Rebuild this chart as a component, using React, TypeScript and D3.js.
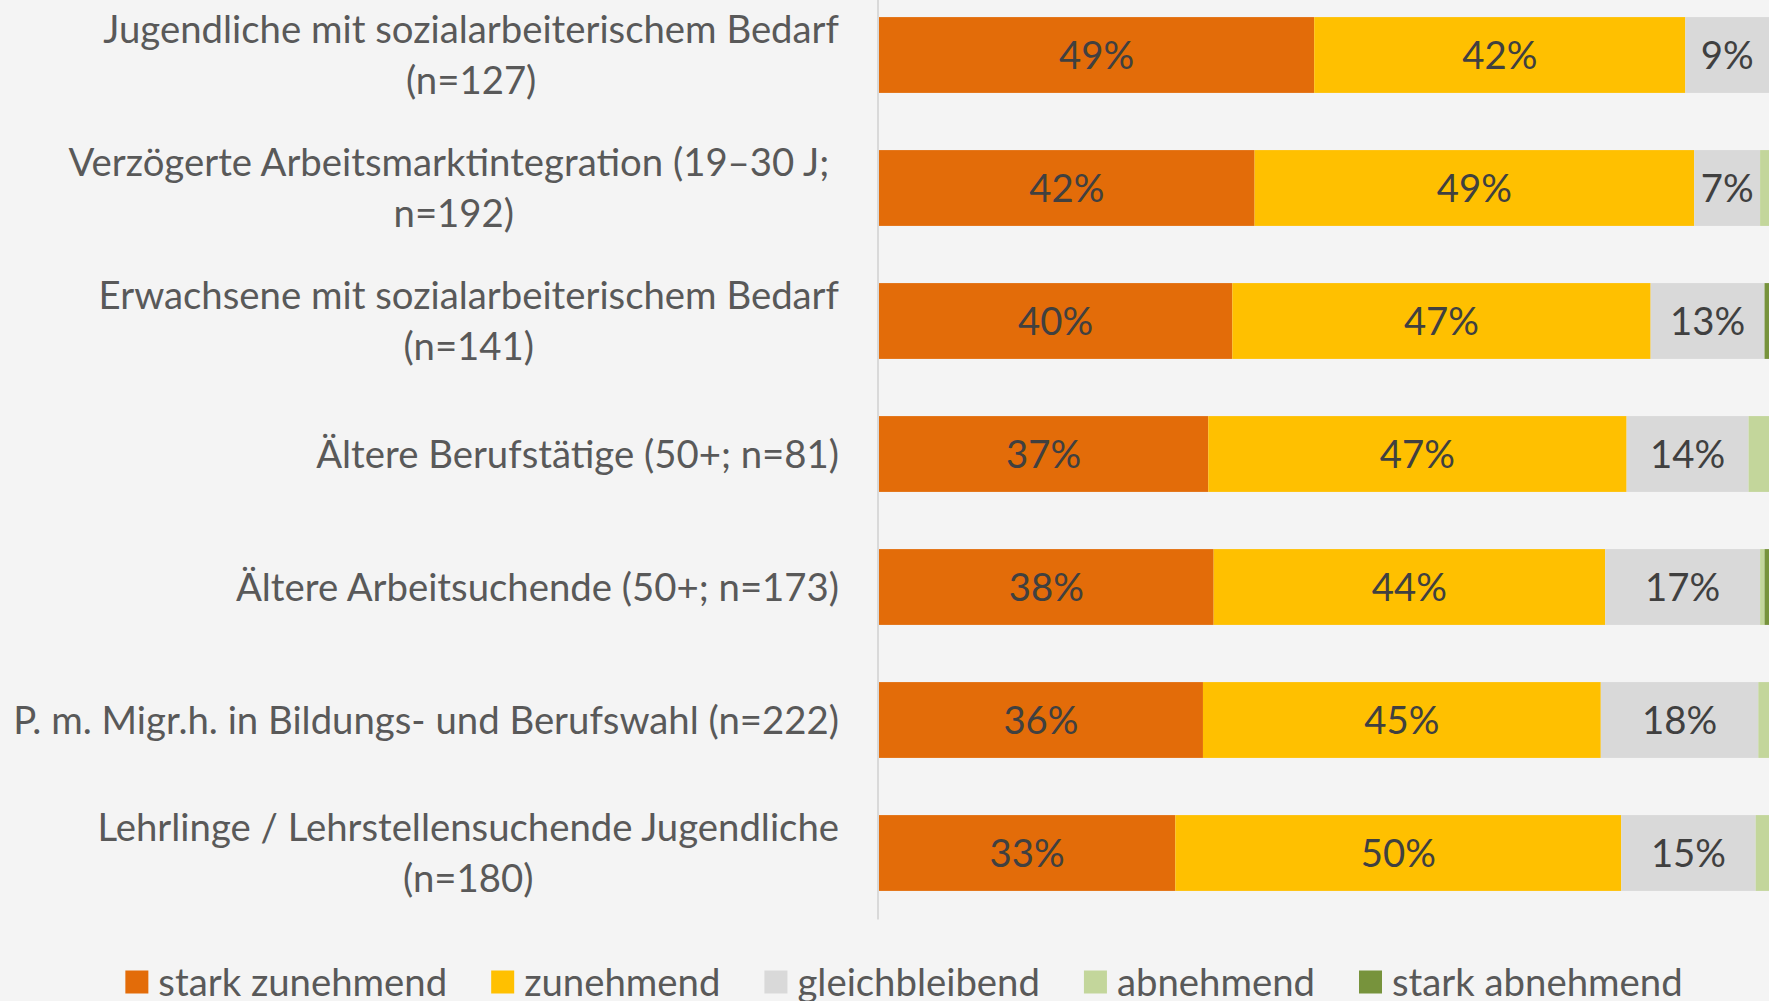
import React, { useEffect, useRef } from "react";
import * as d3 from "d3";

const categoryLines: string[][] = [
  ["Jugendliche mit sozialarbeiterischem Bedarf", "(n=127)"],
  ["Verzögerte Arbeitsmarktintegration (19–30 J; ", "n=192)"],
  ["Erwachsene mit sozialarbeiterischem Bedarf", "(n=141)"],
  ["Ältere Berufstätige (50+; n=81)"],
  ["Ältere Arbeitsuchende (50+; n=173)"],
  ["P. m. Migr.h. in Bildungs- und Berufswahl (n=222)"],
  ["Lehrlinge / Lehrstellensuchende Jugendliche", "(n=180)"],
];

const seriesNames = ["stark zunehmend", "zunehmend", "gleichbleibend", "abnehmend", "stark abnehmend"];
const seriesColors = ["#E36C09", "#FFC000", "#D9D9D9", "#C3D69B", "#77933C"];

const starkZunehmend = [48.9, 42.2, 39.7, 37.0, 37.6, 36.4, 33.3];
const zunehmend = [41.7, 49.4, 47.0, 47.0, 44.0, 44.7, 50.1];
const gleichbleibend = [9.4, 7.4, 12.8, 13.7, 17.4, 17.7, 15.1];
const abnehmend = [0, 1.0, 0, 2.3, 0.5, 1.2, 1.5];
const starkAbnehmend = [0, 0, 0.5, 0, 0.5, 0, 0];

const W = 1769;
const H = 1001;
const FONT = "Lato, 'Open Sans', sans-serif";

export default function App() {
  const ref = useRef<SVGSVGElement | null>(null);

  useEffect(() => {
    document.body.style.margin = "0";
    const svg = d3.select(ref.current);
    svg.selectAll("*").remove();

    const probe = svg.append("text").attr("font-family", FONT).attr("font-size", 100)
      .text("Jugendliche mit sozialarbeiterischem Bedarf");
    const pw = (probe.node() as SVGTextElement).getComputedTextLength();
    probe.remove();
    const fs = (100 * 736) / pw;

    svg.append("rect").attr("width", W).attr("height", H).attr("fill", "#F4F4F4");

    const rows = categoryLines.map((_, i) => ({
      idx: String(i),
      [seriesNames[0]]: starkZunehmend[i],
      [seriesNames[1]]: zunehmend[i],
      [seriesNames[2]]: gleichbleibend[i],
      [seriesNames[3]]: abnehmend[i],
      [seriesNames[4]]: starkAbnehmend[i],
    }));

    const x = d3.scaleLinear().domain([0, 100]).range([879, 1769]);
    const y = d3.scaleBand<string>()
      .domain(rows.map((r) => r.idx))
      .range([-11.5, 919.5])
      .paddingInner(0.43)
      .paddingOuter(0.215);

    const stack = d3.stack<any>().keys(seriesNames);
    const stacked = stack(rows);
    const color = d3.scaleOrdinal<string, string>().domain(seriesNames).range(seriesColors);

    const g = svg.append("g");
    stacked.forEach((s) => {
      const sg = g.append("g").attr("fill", color(s.key));
      sg.selectAll("rect")
        .data(s)
        .join("rect")
        .attr("x", (d) => x(d[0]))
        .attr("y", (d: any) => y(d.data.idx) as number)
        .attr("width", (d) => Math.max(0, x(d[1]) - x(d[0])))
        .attr("height", y.bandwidth());
    });

    const dy = -1.5;

    stacked.forEach((s) => {
      g.append("g")
        .selectAll("text")
        .data(s.filter((d) => d[1] - d[0] >= 3))
        .join("text")
        .attr("x", (d) => (x(d[0]) + x(d[1])) / 2)
        .attr("y", (d: any) => (y(d.data.idx) as number) + y.bandwidth() / 2 + dy)
        .attr("text-anchor", "middle")
        .attr("dominant-baseline", "central")
        .attr("font-family", FONT)
        .attr("font-size", fs)
        .attr("fill", "#404040")
        .text((d) => `${Math.round(d[1] - d[0])}%`);
    });

    svg.append("line")
      .attr("x1", 878).attr("x2", 878)
      .attr("y1", y.range()[0]).attr("y2", y.range()[1])
      .attr("stroke", "#D9D9D9").attr("stroke-width", 2);

    const labelRight = 839;
    const lineGap = 51;
    categoryLines.forEach((lines, i) => {
      const cy = (y(String(i)) as number) + y.bandwidth() / 2 + dy;
      if (lines.length === 1) {
        svg.append("text")
          .attr("x", labelRight).attr("y", cy)
          .attr("text-anchor", "end").attr("dominant-baseline", "central")
          .attr("font-family", FONT).attr("font-size", fs).attr("fill", "#595959")
          .text(lines[0]);
      } else {
        const texts = lines.map((ln, j) =>
          svg.append("text")
            .attr("y", cy + (j - (lines.length - 1) / 2) * lineGap)
            .attr("text-anchor", "middle").attr("dominant-baseline", "central")
            .attr("font-family", FONT).attr("font-size", fs).attr("fill", "#595959")
            .style("white-space", "pre")
            .text(ln)
        );
        const maxW = d3.max(texts, (t) => (t.node() as SVGTextElement).getComputedTextLength()) as number;
        const cx = labelRight - maxW / 2;
        texts.forEach((t) => t.attr("x", cx));
      }
    });

    const sw = 23;
    const swGap = 10;
    const itemGap = 44;
    const legY = 981;
    const lg = svg.append("g");
    const items = seriesNames.map((name) => {
      const it = lg.append("g");
      it.append("rect").attr("width", sw).attr("height", sw).attr("y", legY - sw / 2 + 1).attr("fill", color(name));
      const t = it.append("text")
        .attr("x", sw + swGap).attr("y", legY)
        .attr("dominant-baseline", "central")
        .attr("font-family", FONT).attr("font-size", fs).attr("fill", "#595959")
        .text(name);
      const w = (t.node() as SVGTextElement).getComputedTextLength();
      return { it, w: sw + swGap + w };
    });
    const total = d3.sum(items, (d) => d.w) + itemGap * (items.length - 1);
    let cx = 904 - total / 2;
    items.forEach((d) => {
      d.it.attr("transform", `translate(${cx},0)`);
      cx += d.w + itemGap;
    });
  }, []);

  return (
    <svg
      ref={ref}
      width={W}
      height={H}
      style={{ position: "absolute", left: 0, top: 0, display: "block" }}
    />
  );
}
